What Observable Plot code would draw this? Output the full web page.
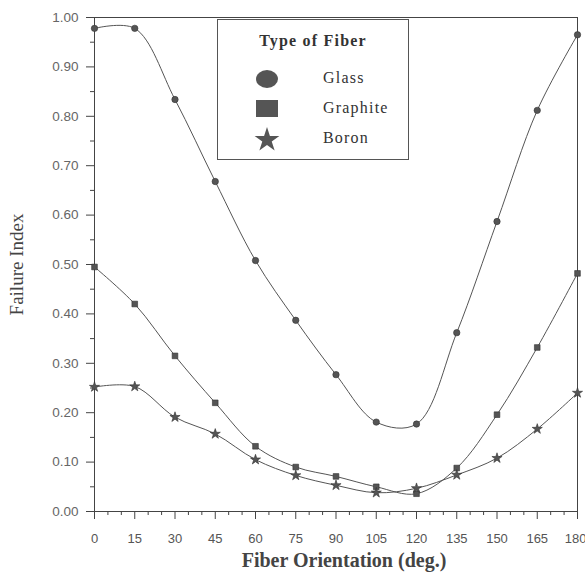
<!DOCTYPE html>
<html>
<head>
<meta charset="utf-8">
<script src="https://cdn.jsdelivr.net/npm/d3@7"></script>
<script src="https://cdn.jsdelivr.net/npm/@observablehq/plot@0.6"></script>
<style>
  html, body { margin: 0; padding: 0; background: #fff; }
  #wrap { position: relative; width: 585px; height: 578px; overflow: hidden; }
  #legend {
    position: absolute; left: 217px; top: 19px; width: 192px; height: 141px;
    border: 1px solid #555; box-sizing: border-box; background: #fff;
    font-family: "Liberation Serif", "DejaVu Serif", serif; color: #333;
  }
  #legend .title { position: absolute; left: 0; width: 100%; top: 12px; text-align: center; font-weight: bold; font-size: 16px; letter-spacing: 1.2px; }
  #legend .row { position: absolute; left: 0; width: 100%; height: 24px; }
  #legend .row svg { position: absolute; left: 36px; top: 0; }
  #legend .row span { position: absolute; left: 105px; top: 2px; font-size: 16px; letter-spacing: 1.2px; }
</style>
</head>
<body>
<div id="wrap"></div>
<script>
const angles = [0, 15, 30, 45, 60, 75, 90, 105, 120, 135, 150, 165, 180];
const glass    = [0.978, 0.978, 0.834, 0.668, 0.508, 0.387, 0.277, 0.181, 0.177, 0.362, 0.587, 0.812, 0.965];
const graphite = [0.495, 0.420, 0.315, 0.220, 0.132, 0.090, 0.071, 0.050, 0.036, 0.088, 0.196, 0.332, 0.482];
const boron    = [0.252, 0.253, 0.191, 0.157, 0.105, 0.073, 0.053, 0.038, 0.047, 0.074, 0.108, 0.167, 0.240];
const seriesNames = ["Glass", "Graphite", "Boron"];
const seriesSymbols = ["circle", "square", "star"];
const yTicks = [0, 0.1, 0.2, 0.3, 0.4, 0.5, 0.6, 0.7, 0.8, 0.9, 1.0];
const yMinor = [0.05, 0.15, 0.25, 0.35, 0.45, 0.55, 0.65, 0.75, 0.85, 0.95];
const xMinor = d3.range(0, 181, 5).filter(d => d % 15 !== 0);
const xLast = [180];
const xMain = angles.filter(d => d !== 180);

const values = [glass, graphite, boron];
const rows = [];
seriesNames.forEach((name, i) => angles.forEach((a, j) => rows.push({series: name, symbol: seriesSymbols[i], angle: a, value: values[i][j]})));

const chart = Plot.plot({
  width: 585, height: 578,
  marginLeft: 94, marginRight: 8, marginTop: 17, marginBottom: 67,
  x: {domain: [0, 180], label: null},
  y: {domain: [0, 1], label: null},
  style: {fontFamily: "'Liberation Sans', Arial, sans-serif", fontSize: "13px", color: "#555", background: "#fff"},
  marks: [
    Plot.frame({stroke: "#444", strokeWidth: 1}),
    Plot.axisX({ticks: xMain, tickSize: 8, tickPadding: 14, tickFormat: d => String(d), fontSize: 13, stroke: "#444", fill: "#555", label: null}),
    Plot.axisX({ticks: xLast, tickSize: 8, tickFormat: () => "", stroke: "#444", label: null}),
    Plot.axisX({ticks: xLast, tickSize: 0, tickPadding: 22, textAnchor: "end", dx: 9, tickFormat: d => String(d), fontSize: 13, fill: "#555", label: null}),
    Plot.axisX({ticks: xMinor, tickSize: 4, tickFormat: () => "", stroke: "#444", label: null}),
    Plot.axisY({ticks: yTicks, tickSize: 8, tickPadding: 8, tickFormat: d => d.toFixed(2), fontSize: 13.5, stroke: "#444", fill: "#666", label: null}),
    Plot.axisY({ticks: yMinor, tickSize: 4, tickFormat: () => "", stroke: "#444", label: null}),
    Plot.line(rows, {x: "angle", y: "value", z: "series", curve: "catmull-rom", stroke: "#555", strokeWidth: 1}),
    Plot.dot(rows, {x: "angle", y: "value", symbol: "symbol", r: 3.2, fill: "#555", stroke: "#333", strokeWidth: 0.6}),
    Plot.text(["Failure Index"], {frameAnchor: "left", dx: -78, rotate: -90, textAnchor: "middle", lineAnchor: "middle", fontSize: 19, fill: "#444", fontFamily: "'Liberation Serif', serif", text: d => d}),
    Plot.text(["Fiber Orientation (deg.)"], {frameAnchor: "bottom", dx: 8, dy: 55, fontSize: 20, fontWeight: "bold", fill: "#444", fontFamily: "'Liberation Serif', serif", text: d => d})
  ]
});
document.getElementById("wrap").appendChild(chart);

// legend overlay
const legend = document.createElement("div");
legend.id = "legend";
legend.innerHTML = '<div class="title">Type of Fiber</div>';
const starPath = d3.symbol(d3.symbolStar, 190)();
const shapes = {
  circle: '<ellipse cx="13" cy="12" rx="11" ry="9" fill="#555"/>',
  square: '<rect x="2" y="3" width="22" height="17" fill="#555"/>',
  star: `<path transform="translate(13,13)" d="${starPath}" fill="#555"/>`
};
seriesNames.forEach((name, i) => {
  const row = document.createElement("div");
  row.className = "row";
  row.style.top = (47 + i * 30) + "px";
  row.innerHTML = `<svg width="26" height="24">${shapes[seriesSymbols[i]]}</svg><span>${name}</span>`;
  legend.appendChild(row);
});
document.getElementById("wrap").appendChild(legend);
</script>
</body>
</html>
